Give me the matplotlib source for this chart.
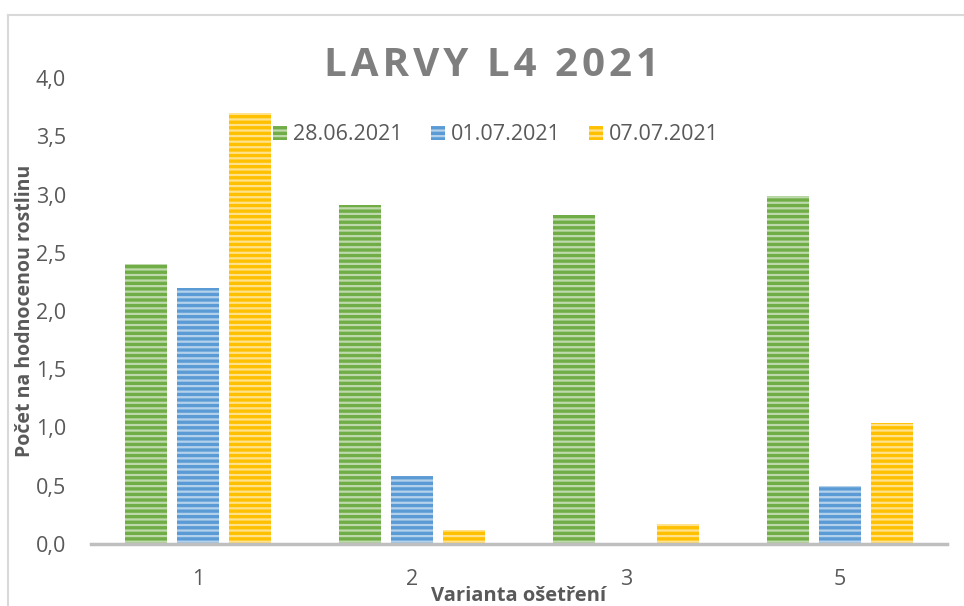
import numpy as np
import matplotlib.pyplot as plt
from matplotlib.lines import Line2D

plt.rcParams['font.family'] = ['Open Sans', 'DejaVu Sans']
plt.rcParams['hatch.linewidth'] = 1.6

varianty = ['1', '2', '3', '5']
serie = ['28.06.2021', '01.07.2021', '07.07.2021']
v_2806 = [2.40, 2.91, 2.82, 2.99]
v_0107 = [2.20, 0.58, 0.0, 0.50]
v_0707 = [3.70, 0.12, 0.17, 1.04]
barvy = ['#70AD47', '#5B9BD5', '#FFC000']

fig = plt.figure(figsize=(9.64, 6.06), dpi=100)
ax = fig.add_axes([91 / 964, 1 - 544 / 606, 856 / 964, 466 / 606])

x = np.arange(len(varianty))
w = 0.2
off = 0.243
for i, (vals, c) in enumerate(zip([v_2806, v_0107, v_0707], barvy)):
    ax.bar(x + (i - 1) * off, vals, w, color=c, edgecolor=(1, 1, 1, 0.55),
           linewidth=0, hatch='---', label=serie[i])

ax.set_xlim(-0.5, 3.5)
ax.set_ylim(0, 4.0)
ax.set_xticks(x)
ax.set_xticklabels(varianty)
ax.set_yticks(np.arange(0, 4.01, 0.5))
ax.set_yticklabels([f'{t:.1f}'.replace('.', ',') for t in np.arange(0, 4.01, 0.5)])
ax.tick_params(length=0, labelsize=15.5, labelcolor='#595959')
ax.tick_params(axis='x', pad=18)
ax.tick_params(axis='y', pad=18)
for s in ['top', 'right', 'left']:
    ax.spines[s].set_visible(False)
ax.spines['bottom'].set_color('#BFBFBF')
ax.spines['bottom'].set_linewidth(2.5)

ax.set_xlabel('Varianta ošetření', fontsize=14.5, fontweight='bold', color='#595959', va='center')
ax.xaxis.set_label_coords(0.5, -0.111)
ax.set_ylabel('Počet na hodnocenou rostlinu', fontsize=14, fontweight='bold', color='#595959', va='center')
ax.yaxis.set_label_coords(-66 / 856, 0.5)

titulek = '\u200a'.join('LARVY L4 2021')
fig.text(492 / 964, 1 - 66 / 606, titulek, ha='center', va='center',
         fontsize=29, fontweight='bold', color='#7F7F7F')

leg = ax.legend(loc='center', bbox_to_anchor=((496 - 91) / 856, (544 - 135) / 466), ncol=3, frameon=False,
                fontsize=15.5, handlelength=0.65, handleheight=0.65, handletextpad=0.3,
                columnspacing=1.3)
for t in leg.get_texts():
    t.set_color('#595959')

# ramecek grafu
fig.add_artist(Line2D([8 / 964, 8 / 964], [0, 1 - 15 / 606], color='#D9D9D9', lw=1.5))
fig.add_artist(Line2D([8 / 964, 1], [1 - 15 / 606, 1 - 15 / 606], color='#D9D9D9', lw=1.5))

fig.savefig('out.png', dpi=100)
